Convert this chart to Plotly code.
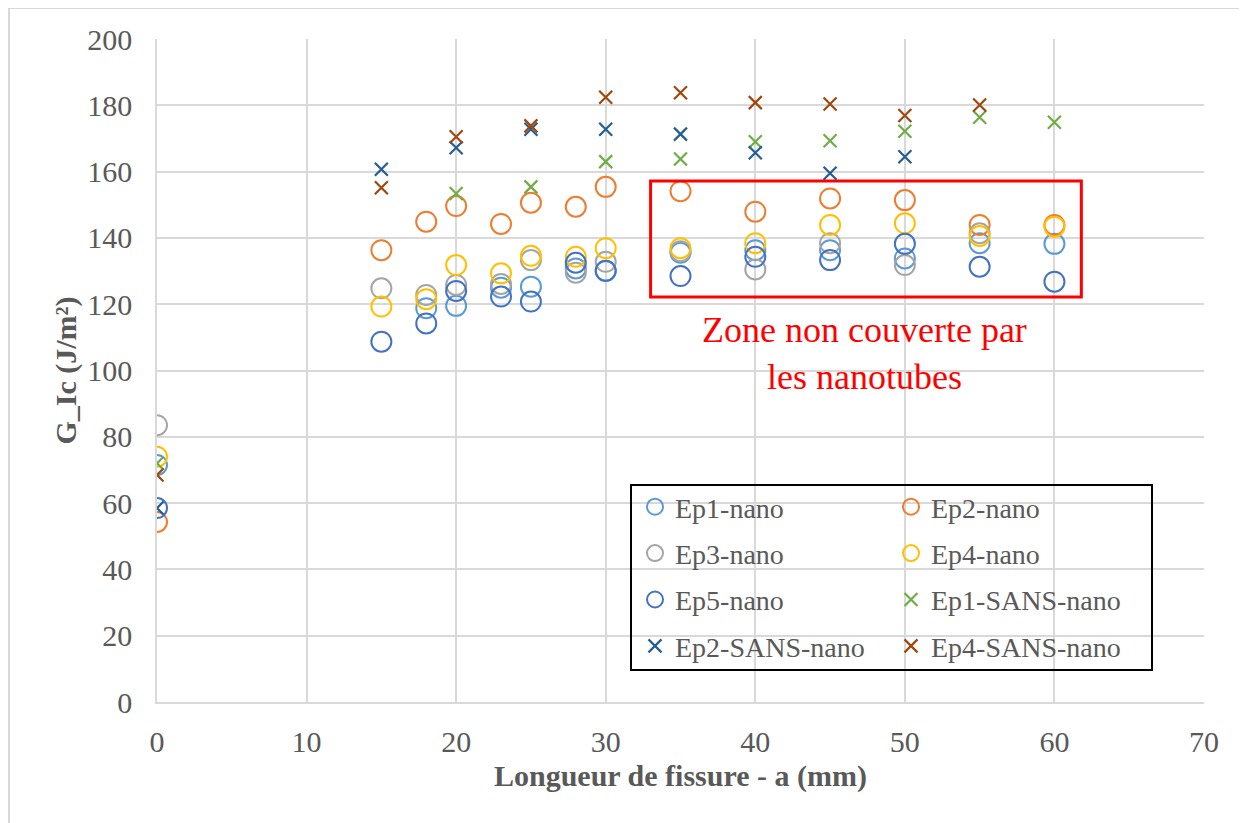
import plotly.graph_objects as go

# ---- data ----
x_nano = [0, 15, 18, 20, 23, 25, 28, 30, 35, 40, 45, 50, 55, 60]
ep1_nano = [71.5, None, 118.8, 119.5, 125.0, 125.3, 130.8, 130.0, 135.5, 136.3, 136.3, 133.8, 138.4, 138.2]
ep2_nano = [54.3, 136.3, 144.9, 149.6, 144.2, 150.6, 149.4, 155.4, 154.1, 147.9, 151.9, 151.4, 143.9, 143.9]
ep3_nano = [83.5, 124.8, 122.8, 125.8, 126.1, 133.3, 129.5, 132.8, 136.0, 130.5, 138.4, 131.8, 141.4, None]
ep4_nano = [74.0, 119.3, 121.5, 131.8, 129.3, 134.6, 134.3, 136.9, 136.9, 138.4, 143.9, 144.4, 140.6, 143.4]
ep5_nano = [58.5, 108.7, 114.2, 124.0, 122.3, 120.8, 132.5, 130.1, 128.5, 134.3, 133.3, 138.2, 131.3, 126.8]

x_ep1_sans = [0, 20, 25, 30, 35, 40, 45, 50, 55, 60]
ep1_sans = [72.0, 153.4, 155.4, 163.0, 163.8, 169.0, 169.3, 172.2, 176.4, 174.9]
x_ep2_sans = [0, 15, 20, 25, 30, 35, 40, 45, 50]
ep2_sans = [58.5, 160.7, 167.2, 172.8, 172.8, 171.3, 165.7, 159.5, 164.5]
x_ep4_sans = [0, 15, 20, 25, 30, 35, 40, 45, 50, 55]
ep4_sans = [68.5, 155.1, 170.5, 173.8, 182.4, 183.8, 180.8, 180.4, 176.9, 180.1]

zone_x = [33.0, 61.8]
zone_y = [122.2, 157.2]

FONT = "Liberation Serif"
TXT = "#595959"
GRID = "#D9D9D9"

fig = go.Figure()

circle_series = [
    ("Ep1-nano", ep1_nano, "#5B9BD5", "legend"),
    ("Ep2-nano", ep2_nano, "#ED7D31", "legend2"),
    ("Ep3-nano", ep3_nano, "#A5A5A5", "legend"),
    ("Ep4-nano", ep4_nano, "#FFC000", "legend2"),
    ("Ep5-nano", ep5_nano, "#4472C4", "legend"),
]
for name, ys, col, lg in circle_series:
    fig.add_trace(go.Scatter(
        x=x_nano, y=ys, mode="markers", name=name, legend=lg, legendgroup=name,
        marker=dict(symbol="circle-open", size=20, color=col, line=dict(width=2, color=col)),
    ))

cross_series = [
    ("Ep1-SANS-nano", x_ep1_sans, ep1_sans, "#70AD47", "legend2"),
    ("Ep2-SANS-nano", x_ep2_sans, ep2_sans, "#255E91", "legend"),
    ("Ep4-SANS-nano", x_ep4_sans, ep4_sans, "#9E480E", "legend2"),
]
for name, xs, ys, col, lg in cross_series:
    fig.add_trace(go.Scatter(
        x=xs, y=ys, mode="markers", name=name, legend=lg, legendgroup=name,
        marker=dict(symbol="x-thin-open", size=13, color=col, line=dict(width=2.2, color=col)),
    ))

OFF = 8  # page offset of the figure inside the browser
W, H = 1247, 823
# plot area in screen pixels
SL, SR, ST, SB = 157, 1204, 39, 702
L = SL - OFF
T = ST - OFF
R = W - (SR - OFF)
B = H - (SB - OFF)
pw, ph = SR - SL, SB - ST

def px_x(p):
    return (p - SL) / pw

def px_y(p):
    return (SB - p) / ph

legend_common = dict(
    font=dict(family=FONT, size=28, color=TXT),
    bgcolor="rgba(0,0,0,0)", borderwidth=0,
    xanchor="left", yanchor="top", tracegroupgap=7,
    traceorder="grouped", itemwidth=30,
)

fig.update_layout(
    width=W, height=H,
    margin=dict(l=L, r=R, t=T, b=B),
    paper_bgcolor="white", plot_bgcolor="white",
    font=dict(family=FONT, color=TXT),
    showlegend=True,
    legend=dict(x=px_x(635), y=px_y(482), **legend_common),
    legend2=dict(x=px_x(891), y=px_y(482), **legend_common),
    xaxis=dict(
        range=[0, 70], dtick=10, tick0=0,
        showgrid=True, gridcolor=GRID, gridwidth=1.5,
        zeroline=False, showline=True, linecolor=GRID, linewidth=1.5,
        ticks="", ticklabelstandoff=12,
        tickfont=dict(family=FONT, size=30, color=TXT),
        title=dict(text="<b>Longueur de fissure - a (mm)</b>",
                   font=dict(family=FONT, size=30, color=TXT), standoff=8),
    ),
    yaxis=dict(
        range=[0, 200], dtick=20, tick0=0,
        showgrid=True, gridcolor=GRID, gridwidth=1.5,
        zeroline=False, showline=True, linecolor=GRID, linewidth=1.5,
        ticks="", ticklabelstandoff=17,
        tickfont=dict(family=FONT, size=30, color=TXT),
        title=dict(text="<b>G_Ic (J/m²)</b>",
                   font=dict(family=FONT, size=30, color=TXT), standoff=2),
    ),
)

# red zone rectangle
fig.add_shape(type="rect", xref="x", yref="y",
              x0=zone_x[0], x1=zone_x[1], y0=zone_y[0], y1=zone_y[1],
              line=dict(color="#FF0000", width=3), fillcolor="rgba(0,0,0,0)")

fig.add_annotation(
    x=47.3, y=105.0, xref="x", yref="y",
    text="Zone non couverte par<br>les nanotubes",
    showarrow=False, align="center",
    font=dict(family=FONT, size=36, color="#FF0000"),
)

# legend frame
fig.add_shape(type="rect", xref="paper", yref="paper",
              x0=px_x(631), x1=px_x(1152), y0=px_y(670), y1=px_y(485),
              line=dict(color="black", width=2), fillcolor="rgba(0,0,0,0)", layer="above")

# outer chart border
fig.add_shape(type="rect", xref="paper", yref="paper",
              x0=px_x(9), x1=px_x(1245), y0=px_y(850), y1=px_y(8),
              line=dict(color="#D9D9D9", width=2), fillcolor="rgba(0,0,0,0)")

fig.write_html("out.html")
